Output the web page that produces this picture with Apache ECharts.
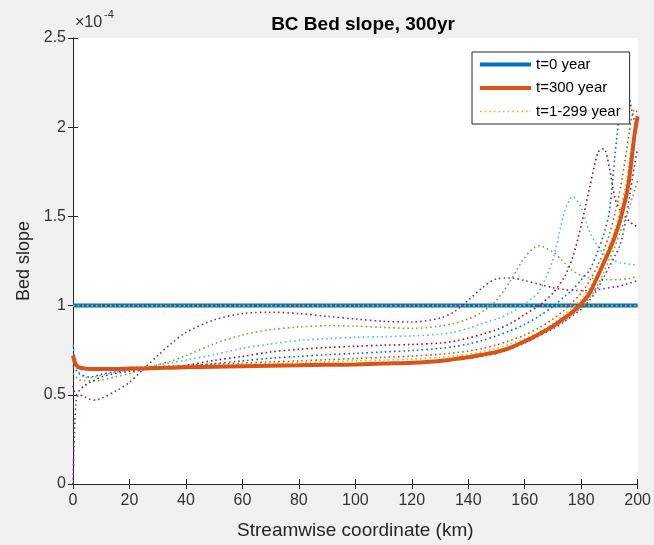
<!DOCTYPE html>
<html>
<head>
<meta charset="utf-8">
<script src="https://cdn.jsdelivr.net/npm/echarts@6/dist/echarts.min.js"></script>
<style>
html,body{margin:0;padding:0;background:#f0f0f0;}
#c{width:654px;height:545px;}
</style>
</head>
<body>
<div id="c"></div>
<script>
// Streamwise coordinate (km)
const xs = [0,1,2,4,6,8,10,15,20,25,30,35,40,50,60,70,80,90,100,110,120,130,135,140,145,150,155,160,165,170,174,177,180,183,186,188,190,192,194,196,197,198,199,200];
// Bed slope values in units of 1e-4
const t0 = xs.map(() => 1.0);
const t300 = [0.72,0.67,0.655,0.648,0.645,0.645,0.645,0.645,0.647,0.648,0.65,0.652,0.654,0.657,0.66,0.663,0.665,0.668,0.67,0.675,0.68,0.69,0.70,0.71,0.725,0.74,0.765,0.80,0.84,0.885,0.93,0.965,1.01,1.07,1.17,1.24,1.31,1.39,1.49,1.62,1.71,1.84,1.97,2.06];
const yA = xs.map(() => 1.0);
const pA = [0.0,0.45,0.5,0.49,0.475,0.47,0.48,0.52,0.57,0.645,0.72,0.79,0.85,0.92,0.955,0.963,0.955,0.94,0.925,0.912,0.908,0.93,0.965,1.03,1.10,1.15,1.155,1.14,1.12,1.10,1.09,1.085,1.085,1.085,1.09,1.095,1.10,1.105,1.11,1.12,1.125,1.13,1.135,1.14];
const gA = [0.62,0.6,0.585,0.58,0.578,0.578,0.582,0.60,0.62,0.645,0.668,0.69,0.72,0.785,0.835,0.865,0.88,0.887,0.885,0.878,0.872,0.885,0.90,0.925,0.965,1.03,1.14,1.27,1.335,1.30,1.24,1.195,1.17,1.155,1.15,1.147,1.145,1.145,1.147,1.15,1.152,1.155,1.16,1.165];
const lbA = [0.78,0.68,0.63,0.60,0.595,0.60,0.61,0.625,0.64,0.655,0.668,0.68,0.695,0.725,0.76,0.785,0.805,0.815,0.822,0.826,0.83,0.84,0.852,0.872,0.90,0.925,0.96,1.01,1.08,1.26,1.52,1.61,1.55,1.41,1.33,1.29,1.265,1.25,1.24,1.235,1.232,1.23,1.228,1.225];
const rA = [0.55,0.50,0.52,0.55,0.57,0.585,0.60,0.62,0.632,0.64,0.648,0.656,0.665,0.693,0.715,0.74,0.755,0.765,0.772,0.778,0.782,0.79,0.80,0.818,0.84,0.865,0.90,0.95,1.0,1.07,1.16,1.27,1.45,1.66,1.86,1.88,1.77,1.60,1.53,1.49,1.475,1.46,1.45,1.44];
const bA = [0.66,0.64,0.62,0.605,0.60,0.605,0.615,0.63,0.64,0.645,0.65,0.655,0.66,0.675,0.69,0.705,0.715,0.725,0.732,0.74,0.748,0.76,0.77,0.785,0.805,0.83,0.86,0.895,0.94,0.995,1.05,1.09,1.145,1.2,1.31,1.40,1.53,1.85,2.12,2.23,2.17,2.09,2.03,1.98];
const oA = [0.70,0.66,0.645,0.64,0.64,0.642,0.645,0.648,0.652,0.655,0.658,0.662,0.665,0.672,0.678,0.685,0.69,0.697,0.703,0.71,0.717,0.727,0.735,0.745,0.76,0.78,0.805,0.835,0.875,0.925,0.975,1.02,1.07,1.14,1.23,1.31,1.40,1.52,1.67,1.86,1.97,2.06,2.10,2.08];
const yB = [0.71,0.665,0.65,0.645,0.643,0.643,0.645,0.647,0.65,0.652,0.655,0.658,0.66,0.665,0.67,0.675,0.68,0.685,0.69,0.695,0.70,0.71,0.717,0.728,0.742,0.76,0.785,0.815,0.85,0.90,0.95,0.99,1.035,1.10,1.185,1.26,1.34,1.43,1.55,1.70,1.80,1.90,1.97,2.02];
const pB = [0.70,0.66,0.65,0.645,0.643,0.643,0.644,0.645,0.646,0.647,0.649,0.651,0.653,0.656,0.659,0.662,0.664,0.667,0.669,0.673,0.678,0.688,0.695,0.705,0.718,0.732,0.757,0.79,0.83,0.87,0.91,0.945,0.98,1.03,1.10,1.16,1.22,1.28,1.35,1.50,1.60,1.70,1.80,1.88];
const gB = [0.69,0.66,0.65,0.645,0.643,0.643,0.644,0.645,0.646,0.647,0.649,0.651,0.653,0.656,0.659,0.662,0.664,0.667,0.669,0.674,0.679,0.69,0.697,0.708,0.72,0.735,0.76,0.795,0.835,0.875,0.915,0.95,0.99,1.045,1.12,1.19,1.26,1.33,1.42,1.50,1.55,1.60,1.65,1.70];
const xTicks = [0,20,40,60,80,100,120,140,160,180,200];
const yTicks = [0,0.5,1,1.5,2,2.5];

const C = {blue:'#0072BD', orange:'#D95319', yellow:'#EDB120', purple:'#7E2F8E', green:'#77AC30', lblue:'#4DBEEE', red:'#A2142F'};
const pts = ys => xs.map((x,i)=>[x, ys[i]]);
const dotted = (name, ys, color) => ({
  name, type:'line', data: pts(ys), symbol:'none', smooth:0.3, silent:true,
  lineStyle:{color, width:1.6, type:[1.6,3]}, itemStyle:{color}, z:3
});
const axisCol = '#262626';
const font = 'Liberation Sans, Arial, Helvetica, sans-serif';

const chart = echarts.init(document.getElementById('c'));
chart.setOption({
  backgroundColor:'#f0f0f0',
  animation:false,
  title:{text:'BC Bed slope, 300yr', left:358, textAlign:'center', top:10,
    textStyle:{fontFamily:font, fontSize:19, fontWeight:'bold', color:'#000'}},
  graphic:[
    {type:'text', left:75, top:15, style:{text:'\u00d710', font:'16px '+font, fill:'#333'}},
    {type:'text', left:104, top:9, style:{text:'-4', font:'11px '+font, fill:'#333'}}
  ],
  legend:{
    orient:'vertical', left:472, top:52, padding:[5,9,5,6], itemWidth:51, itemHeight:14, itemGap:8.5,
    backgroundColor:'#fff', borderColor:axisCol, borderWidth:1, borderRadius:0,
    itemStyle:{opacity:0},
    textStyle:{fontFamily:font, fontSize:15, color:'#000'},
    data:[
      {name:'t=0 year', lineStyle:{width:4}},
      {name:'t=300 year', lineStyle:{width:4}},
      {name:'t=1-299 year', lineStyle:{width:1.6}}
    ]
  },
  grid:{left:73, right:11, top:38, bottom:57, show:true, backgroundColor:'#fff', borderWidth:0},
  xAxis:[
    {type:'value', min:0, max:200, interval:20, position:'bottom',
      name:'Streamwise coordinate (km)', nameLocation:'middle', nameGap:37,
      nameTextStyle:{fontFamily:font, fontSize:19, color:'#262626'},
      axisLine:{lineStyle:{color:axisCol, width:1}},
      axisTick:{inside:true, length:5, lineStyle:{color:axisCol}},
      axisLabel:{margin:9, fontFamily:font, fontSize:16, color:'#333'},
      splitLine:{show:false}},
    {type:'value', min:0, max:200, interval:20, position:'top',
      axisLine:{lineStyle:{color:axisCol, width:1}},
      axisTick:{inside:true, length:5, lineStyle:{color:axisCol}},
      axisLabel:{show:false}, splitLine:{show:false}}
  ],
  yAxis:[
    {type:'value', min:0, max:2.5, interval:0.5, position:'left',
      name:'Bed slope', nameLocation:'middle', nameGap:40,
      nameTextStyle:{fontFamily:font, fontSize:18, color:'#262626'},
      axisLine:{show:true, lineStyle:{color:axisCol, width:1}},
      axisTick:{show:true, inside:true, length:5, lineStyle:{color:axisCol}},
      axisLabel:{margin:7, fontFamily:font, fontSize:16, color:'#333'},
      splitLine:{show:false}},
    {type:'value', min:0, max:2.5, interval:0.5, position:'right',
      axisLine:{show:true, lineStyle:{color:axisCol, width:1}},
      axisTick:{show:true, inside:true, length:5, lineStyle:{color:axisCol}},
      axisLabel:{show:false}, splitLine:{show:false}}
  ],
  series:[
    {name:'t=0 year', type:'line', data:pts(t0), symbol:'none', silent:true,
      lineStyle:{color:C.blue, width:4}, itemStyle:{color:C.blue}, z:2},
    dotted('t=1-299 year', yA, C.yellow),
    dotted('s2', pA, C.purple),
    dotted('s3', gA, C.green),
    dotted('s4', lbA, C.lblue),
    dotted('s5', rA, C.red),
    dotted('s6', bA, C.blue),
    dotted('s7', oA, C.orange),
    dotted('s8', yB, C.yellow),
    dotted('s9', pB, C.purple),
    dotted('s10', gB, C.green),
    {name:'t=300 year', type:'line', data:pts(t300), symbol:'none', smooth:0.3, silent:true,
      lineStyle:{color:C.orange, width:4}, itemStyle:{color:C.orange}, z:4}
  ]
});
</script>
</body>
</html>
